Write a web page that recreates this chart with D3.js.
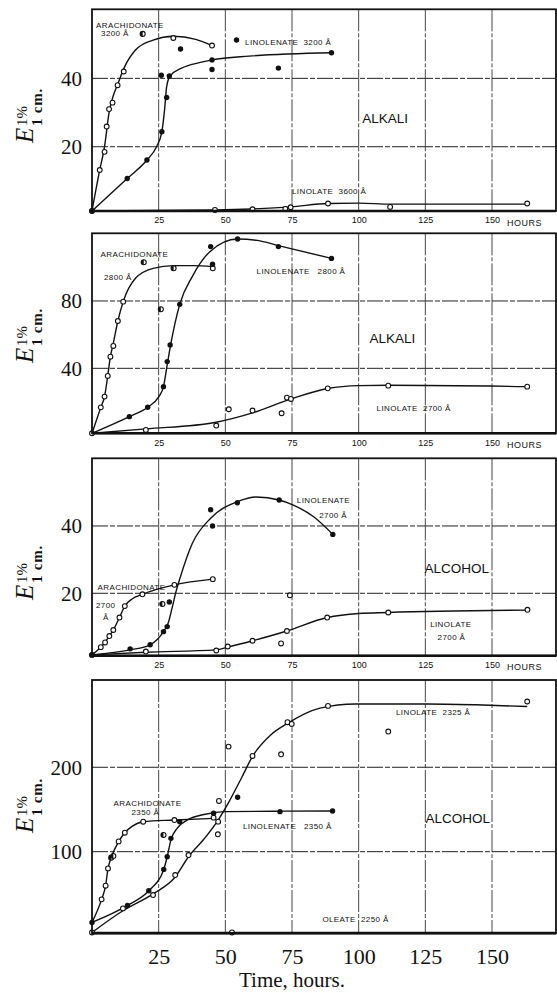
<!DOCTYPE html>
<html><head><meta charset="utf-8">
<script src="https://cdn.jsdelivr.net/npm/d3@7"></script>
<style>body{margin:0;background:#fff}svg{display:block}</style>
</head><body><svg id="c" width="557" height="993"></svg>
<script>
// ---------- DATA (hours, E 1% 1cm) ----------
const xDomain = [0, 174];
const xTicks = [25, 50, 75, 100, 125, 150];

// Panel 1 : ALKALI
const p1YDomain = [1.2, 60.2];
const p1YTicks = [20, 40];
const p1ArachPts = [[0,1.2],[2.9,13.2],[4.7,18.5],[5.5,25.9],[6.4,31.0],[7.7,32.9],[9.6,38.0],[11.9,42.0],[30.5,51.8],[45,49.6]];
const p1ArachHalf = [[19.0,53.0]];
const p1ArachCurve = [[0,1.2],[2.9,13.2],[4.7,20],[6.4,30],[8,35],[9.6,38.2],[12,43],[16.3,48.3],[22.9,51.2],[30.5,52.3],[38.9,51.4],[45,49.6]];
const p1LinolenPts = [[0,1.2],[13.2,10.7],[20.6,16.1],[26.2,24.4],[28.0,34.4],[26.0,40.9],[29.0,40.7],[33.2,48.6],[45,45.4],[45,42.6],[54.2,51.2],[69.9,43.0],[89.8,47.5]];
const p1LinolenCurve = [[0,1.2],[13.2,10.7],[20.6,16.1],[24.2,20],[26.2,24.4],[27.2,30.7],[28,37.6],[29.3,40.7],[33.6,43],[40.2,44.6],[45,45.4],[58.9,46.5],[89.8,47.5]];
const p1LinolatPts = [[46.1,1.5],[60.2,1.7],[72.5,1.8],[74.5,2.3],[88.5,3.4],[111.8,2.4],[163.2,3.4]];
const p1LinolatCurve = [[0,1.2],[46,1.5],[60,1.8],[74.5,2.4],[88.5,3.4],[100,3.5],[111.8,3.2],[163.2,3.2]];
const p1Labels = [["ARACHIDONATE",1.5,54.7],["3200 Å",3.4,52.4],["LINOLENATE\u00a0\u00a03200 Å",57.4,49.8],["LINOLATE\u00a0\u00a03600 Å",75,6.2]];
const p1Big = [["ALKALI",101.3,26.9]];

// Panel 2 : ALKALI
const p2YDomain = [1.4, 120.2];
const p2YTicks = [40, 80];
const p2ArachPts = [[0,1.4],[3.3,16.8],[4.7,23.2],[5.9,35.5],[6.9,46.9],[8.0,53.3],[9.7,68.1],[11.7,79.6],[45.3,99.4]];
const p2ArachHalf = [[19.4,103],[25.8,75.1],[30.6,99.4]];
const p2ArachCurve = [[0,1.4],[3.3,16.8],[4.7,23.2],[5.9,35.5],[6.9,46.9],[8,55],[9.7,68.1],[11.7,79.6],[16.3,93.5],[22.9,99.4],[30.6,101],[38,101],[45.3,100.4]];
const p2LinolenPts = [[14.0,11.3],[20.9,16.9],[26.8,29.1],[28.2,44],[29.3,53.9],[32.9,78],[44.5,112.3],[45.2,101.8],[54.6,116.8],[69.9,112.3],[89.8,105.3]];
const p2LinolenCurve = [[0,1.4],[14,11.3],[20.9,16.9],[25,23],[26.8,29.1],[28.2,42],[29.5,54],[32.9,78],[37.6,94.5],[44.2,109.3],[54.6,116.8],[62,116],[69.9,112.9],[89.8,105.3]];
const p2LinolatPts = [[20.2,3.4],[46.6,6.0],[51.3,15.7],[60.2,14.9],[71.1,13.3],[73.1,22.6],[74.6,21.8],[88.4,28.1],[111.1,29.7],[163.2,29.1]];
const p2LinolatCurve = [[0,1.4],[20.2,4],[46.6,8],[60.2,13.5],[74.6,21.8],[88.4,28],[100,29.7],[111.1,29.9],[163.2,29.1]];
const p2Labels = [["ARACHIDONATE",3.2,106.1],["2800 Å",4.5,92.5],["LINOLENATE\u00a0\u00a0\u00a02800 Å",61.7,96.0],["LINOLATE\u00a0\u00a02700 Å",106.7,14.6]];
const p2Big = [["ALKALI",104.1,55.0]];

// Panel 3 : ALCOHOL
const p3YDomain = [1.46, 60.1];
const p3YTicks = [20, 40];
const p3ArachPts = [[0,1.7],[3.3,4.0],[4.9,5.4],[6.5,7.3],[8.0,9.1],[10.3,12.8],[12.3,16.2],[18.9,19.7],[30.9,22.5],[45.3,24.2]];
const p3ArachCurve = [[0,1.7],[3.3,4],[6.5,7.3],[8,9.1],[10.3,12.8],[12.3,16.2],[15,18.3],[18.9,19.7],[30.9,22.5],[45.3,24.2]];
const p3LinolenPts = [[0,1.7],[14.3,3.5],[21.8,4.7],[26.8,8.6],[28.2,10.1],[29.0,17.4],[44.5,44.8],[45.2,40.0],[54.5,46.9],[70.2,47.7],[90.3,37.5]];
const p3LinolenHalf = [[26.4,16.8]];
const p3LinolenCurve = [[0,1.7],[14.3,3.2],[21.8,4.7],[26.8,8.6],[28.5,11],[30,15.5],[31.5,20.5],[33,24.5],[37.6,34.8],[44.5,42.3],[54.5,47.2],[61.5,48.6],[70.2,47.7],[75.5,46.2],[83,42.8],[90.3,37.5]];
const p3LinolatPts = [[20.2,2.7],[46.6,3.0],[50.9,4.2],[60.2,5.9],[70.9,5.1],[73.1,8.8],[74.2,19.4],[88.2,12.8],[111.1,14.3],[163.3,15.1]];
const p3LinolatCurve = [[0,1.7],[20.2,2.5],[46.6,3.2],[50.9,4],[60.2,5.9],[73.1,8.8],[88.2,12.8],[100,14],[111.1,14.3],[163.3,15]];
const p3Labels = [["LINOLENATE",76.8,46.8],["2700 Å",85.2,42.4],["ARACHIDONATE",2.1,21.0],["2700",1.5,15.6],["Å",4.1,12.1],["LINOLATE",126.8,10.0],["2700 Å",129.6,6.1]];
const p3Big = [["ALCOHOL",124.7,26.0]];

// Panel 4 : ALCOHOL
const p4YDomain = [3.3, 303.4];
const p4YTicks = [100, 200];
const p4ArachPts = [[3.6,43.5],[5.1,59.7],[6.0,80.2],[10.0,112.2],[12.3,122.5],[19.2,135.5],[30.9,137.5],[45.6,140.3]];
const p4ArachHalf = [[7.2,92.9],[8.0,94.9]];
const p4ArachCurve = [[0,16.3],[3.6,43.5],[5.1,59.7],[6,80],[7.2,93],[10,112],[12.3,122.5],[15,130],[19.2,135.5],[30.9,137.5],[45.6,139.5]];
const p4LinolenPts = [[0,16.2],[13.3,36.3],[21.3,53.7],[26.9,79.0],[28.2,94.1],[29.6,115.8],[32.9,135.6],[45.6,145.5],[54.6,164.4],[70.5,147.4],[90.2,148.2]];
const p4LinolenHalf = [[26.8,119.8]];
const p4LinolenCurve = [[0,16.2],[13.3,36.3],[21.3,53.7],[26.9,79],[28.2,94],[29.6,114],[32,128],[36,138],[42,144],[50,147.5],[70.5,148],[90.2,148.2]];
const p4LinolatPts = [[0,4.3],[11.6,32.8],[22.9,48.6],[31.2,72.3],[36.2,96.0],[47.2,120.6],[47.3,135.6],[47.6,160.1],[51.2,224.5],[60.2,213.4],[70.9,215.4],[73.3,253.4],[74.9,251.4],[88.5,272.7],[111.1,242.3],[163.2,277.9]];
const p4LinolatCurve = [[0,4.3],[11.6,30],[22.9,50],[31.2,70],[36.2,94],[42,115],[47.3,137.5],[51,157],[56,187],[60.2,213],[66.9,238],[73.3,252],[85.5,270],[98.8,275],[125.5,275],[144,274],[163.2,272]];
const p4OleatePts = [[52.5,4.3]];
const p4OleateCurve = [[0,4.3],[174,4.3]];
const p4Labels = [["ARACHIDONATE",8.1,154.1],["2350 Å",14.8,143.5],["LINOLENATE\u00a0\u00a0\u00a02350 Å",56.6,126.9],["LINOLATE\u00a0\u00a02325 Å",114,262.0],["OLEATE\u00a0\u00a02250 Å",86.4,16.7]];
const p4Big = [["ALCOHOL",125.1,134.0]];

// ---------- LAYOUT ----------
const SERIF = "'Liberation Serif','Times New Roman',serif";
const SANS = "'Liberation Sans',Arial,sans-serif";
const plotLeft = 92, plotRight = 556;
const layout = [
  {top: 9.3, bottom: 211, labelMid: 112},
  {top: 233.3, bottom: 433.3, labelMid: 332},
  {top: 458.3, bottom: 655.7, labelMid: 569},
  {top: 680, bottom: 933.3, labelMid: 802}
];
const panels = [
  {yDomain: p1YDomain, yTicks: p1YTicks, labels: p1Labels, big: p1Big, series: [
    {curve: p1ArachCurve, open: p1ArachPts, half: p1ArachHalf},
    {curve: p1LinolenCurve, filled: p1LinolenPts},
    {curve: p1LinolatCurve, open: p1LinolatPts}]},
  {yDomain: p2YDomain, yTicks: p2YTicks, labels: p2Labels, big: p2Big, series: [
    {curve: p2ArachCurve, open: p2ArachPts, half: p2ArachHalf},
    {curve: p2LinolenCurve, filled: p2LinolenPts},
    {curve: p2LinolatCurve, open: p2LinolatPts}]},
  {yDomain: p3YDomain, yTicks: p3YTicks, labels: p3Labels, big: p3Big, series: [
    {curve: p3ArachCurve, open: p3ArachPts},
    {curve: p3LinolenCurve, filled: p3LinolenPts, half: p3LinolenHalf},
    {curve: p3LinolatCurve, open: p3LinolatPts}]},
  {yDomain: p4YDomain, yTicks: p4YTicks, labels: p4Labels, big: p4Big, series: [
    {curve: p4OleateCurve, open: p4OleatePts},
    {curve: p4ArachCurve, open: p4ArachPts, half: p4ArachHalf},
    {curve: p4LinolenCurve, filled: p4LinolenPts, half: p4LinolenHalf},
    {curve: p4LinolatCurve, open: p4LinolatPts}]}
];

const svg = d3.select('#c');
svg.append('rect').attr('width',557).attr('height',993).attr('fill','#fff');
const x = d3.scaleLinear().domain(xDomain).range([plotLeft, plotRight]);

panels.forEach((p, i) => {
  const L = layout[i];
  const y = d3.scaleLinear().domain(p.yDomain).range([L.bottom, L.top]);
  const g = svg.append('g');

  // grid
  g.selectAll('.hg').data(p.yTicks).enter().append('line')
    .attr('x1', plotLeft).attr('x2', plotRight)
    .attr('y1', d => y(d)).attr('y2', d => y(d))
    .attr('stroke', '#222').attr('stroke-width', 1).attr('stroke-dasharray', '16,2,5,2');
  g.selectAll('.vg').data(xTicks).enter().append('line')
    .attr('x1', d => x(d)).attr('x2', d => x(d))
    .attr('y1', L.top).attr('y2', L.bottom)
    .attr('stroke', '#333').attr('stroke-width', 0.9).attr('stroke-dasharray', '22,2,4,2');

  // curves
  const line = d3.line().x(d => x(d[0])).y(d => y(d[1])).curve(d3.curveMonotoneX);
  p.series.forEach(s => {
    g.append('path').attr('d', line(s.curve)).attr('fill','none')
      .attr('stroke','#111').attr('stroke-width',1.4);
  });
  // points
  p.series.forEach(s => {
    if (s.open) g.selectAll(null).data(s.open).enter().append('circle')
      .attr('cx', d => x(d[0])).attr('cy', d => y(d[1])).attr('r', 2.4)
      .attr('fill','#fff').attr('stroke','#111').attr('stroke-width',1.1);
    if (s.filled) g.selectAll(null).data(s.filled).enter().append('circle')
      .attr('cx', d => x(d[0])).attr('cy', d => y(d[1])).attr('r', 2.7)
      .attr('fill','#111');
    if (s.half) {
      const hg = g.selectAll(null).data(s.half).enter().append('g')
        .attr('transform', d => `translate(${x(d[0])},${y(d[1])})`);
      hg.append('circle').attr('r',2.5).attr('fill','#fff').attr('stroke','#111').attr('stroke-width',1.1);
      hg.append('path').attr('d', d3.arc()({innerRadius:0, outerRadius:2.5, startAngle:Math.PI, endAngle:2*Math.PI})).attr('fill','#111');
    }
  });

  // frame
  g.append('rect').attr('x', plotLeft).attr('y', L.top)
    .attr('width', plotRight - plotLeft).attr('height', L.bottom - L.top)
    .attr('fill','none').attr('stroke','#111').attr('stroke-width',1.8);
  g.append('line').attr('x1', plotLeft).attr('x2', plotRight)
    .attr('y1', L.bottom).attr('y2', L.bottom).attr('stroke','#111').attr('stroke-width',2.6);

  // y axis
  const ya = g.append('g').attr('transform', `translate(${plotLeft},0)`)
    .call(d3.axisLeft(y).tickValues(p.yTicks).tickSize(0).tickPadding(10).tickFormat(d3.format('d')));
  ya.select('.domain').remove();
  ya.selectAll('text').attr('font-family', SERIF).attr('font-size', 21).attr('fill','#111');

  // x axis
  if (i < 3) {
    const xa = g.append('g').attr('transform', `translate(0,${L.bottom})`)
      .call(d3.axisBottom(x).tickValues(xTicks).tickSize(0).tickPadding(6).tickFormat(d3.format('d')));
    xa.select('.domain').remove();
    xa.selectAll('text').attr('font-family', SANS).attr('font-size', 9).attr('fill','#111');
    g.append('text').attr('x', x(150) + 15).attr('y', L.bottom + 14.5)
      .attr('font-family', SANS).attr('font-size', 9).attr('letter-spacing', 0.5).attr('fill','#111').text('HOURS');
  } else {
    const xa = g.append('g').attr('transform', `translate(0,${L.bottom})`)
      .call(d3.axisBottom(x).tickValues(xTicks).tickSize(0).tickPadding(15).tickFormat(d3.format('d')));
    xa.select('.domain').remove();
    xa.selectAll('text').attr('font-family', SERIF).attr('font-size', 22).attr('fill','#111');
    g.append('text').attr('x', x(75)).attr('y', 987).attr('text-anchor','middle')
      .attr('font-family', SERIF).attr('font-size', 21).attr('fill','#111').text('Time, hours.');
  }

  // y label
  const yl = g.append('g').attr('transform', `translate(33,${L.labelMid + 31}) rotate(-90)`)
    .attr('font-family', SERIF).attr('fill','#111');
  yl.append('text').attr('x',0).attr('y',0).attr('font-size',25).attr('font-style','italic').text('E');
  yl.append('text').attr('x',17).attr('y',-6).attr('font-size',15).text('1%');
  yl.append('text').attr('x',17).attr('y',9).attr('font-size',15).attr('font-weight','bold').attr('letter-spacing',0.8).text('1 cm.');

  // annotations
  g.selectAll(null).data(p.labels).enter().append('text')
    .attr('x', d => x(d[1])).attr('y', d => y(d[2]))
    .attr('font-family', SANS).attr('font-size', 8).attr('letter-spacing', 0.4)
    .attr('fill','#111').text(d => d[0]);
  g.selectAll(null).data(p.big).enter().append('text')
    .attr('x', d => x(d[1])).attr('y', d => y(d[2]))
    .attr('font-family', SANS).attr('font-size', 13.5)
    .attr('fill','#111').text(d => d[0]);
});
</script>
</body></html>
